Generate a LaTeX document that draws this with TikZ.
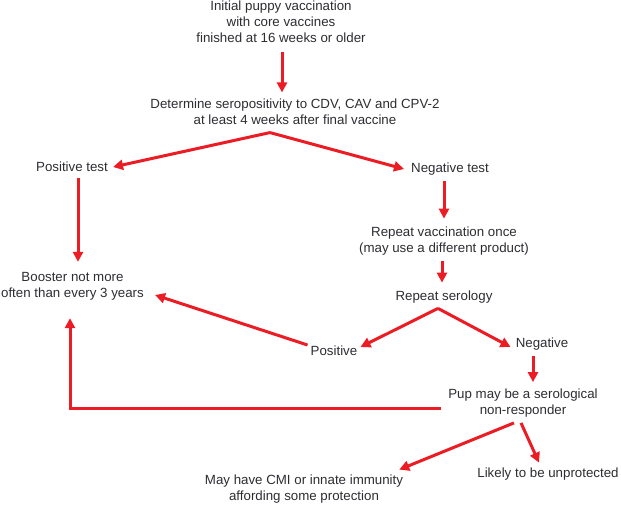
\documentclass[tikz,border=0pt]{standalone}
\usepackage{fontspec}
\setmainfont{Liberation Sans}
\usetikzlibrary{arrows.meta}
\definecolor{flowred}{RGB}{236,28,36}
\definecolor{flowtext}{RGB}{45,45,50}

\begin{document}
\begin{tikzpicture}[x=1pt, y=-1pt]
			\tikzstyle{stage} = [align=center, inner sep=5pt, text=flowtext, font=\fontsize{13.3}{16}\selectfont]
			\tikzstyle{link} = [draw=flowred, line width=3pt, -{Triangle[length=10pt, width=10pt]}]

			\useasboundingbox (0,0) rectangle (621,504);

			\node [stage] (start) at (281,22) {Initial puppy vaccination\\with core vaccines\\finished at 16 weeks or older};

			\node [stage] (sero) at (295,111.5) {Determine seropositivity to CDV, CAV and CPV-2\\at least 4 weeks after final vaccine};
			\draw [link] ([xshift=1pt, yshift=-4pt]start.south) -- ([xshift=-13pt, yshift=1pt]sero.north);

			\node [stage] (postest) at (72,167) {Positive test};
			\draw [link] ([xshift=-25pt, yshift=-3pt]sero.south) -- (postest.east);

			\node [stage] (negtest) at (450,169) {Negative test};
			\draw [link] ([xshift=-25pt, yshift=-3pt]sero.south) -- ([xshift=-2pt]negtest.west);

			\node [stage] (booster) at (72.5,286) {Booster not more\\often than every 3 years};
			\draw [link] ([xshift=6pt, yshift=-1pt]postest.south) -- ([xshift=5.5pt, yshift=5pt]booster.north);

			\node [stage] (repeatvac) at (444,241) {Repeat vaccination once\\(may use a different product)};
			\draw [link] ([xshift=-6pt, yshift=-1pt]negtest.south) -- ([yshift=3pt]repeatvac.north);

			\node [stage] (repeatsero) at (444,297) {Repeat serology};
			\draw [link] ([xshift=-2pt, yshift=-1pt]repeatvac.south) -- ([xshift=-2pt, yshift=3pt]repeatsero.north);

			\node [stage] (pos) at (334,351) {Positive};
			\draw [link] ([xshift=-6pt]repeatsero.south) -- ([xshift=-2pt, yshift=4pt]pos.east);

			\node [stage] (neg) at (542,344) {Negative};
			\draw [link] ([xshift=-6pt]repeatsero.south) -- ([yshift=-3pt]neg.west);

			\draw [link] ([xshift=2pt, yshift=6pt]pos.west) -- ([xshift=6pt, yshift=-9pt]booster.east);

			\node [stage] (pup) at (523,403.5) {Pup may be a serological\\non-responder};
			\draw [link] ([xshift=-9pt, yshift=-1pt]neg.south) -- ([xshift=10pt, yshift=2pt]pup.north);

			\draw [link] ([xshift=-2pt, yshift=-4.5pt]pup.west) -| ([xshift=-2.5pt, yshift=-13pt]booster.south);

			\node [stage] (cmi) at (304,489) {May have CMI or innate immunity\\affording some protection};
			\draw [link] ([xshift=-9pt]pup.south) -- ([xshift=-9pt]cmi.north east);

			\node [stage] (likely) at (548,474) {Likely to be unprotected};
			\draw [link] ([xshift=-2pt]pup.south) -- ([xshift=-9pt]likely.north);
		\end{tikzpicture}
\end{document}
